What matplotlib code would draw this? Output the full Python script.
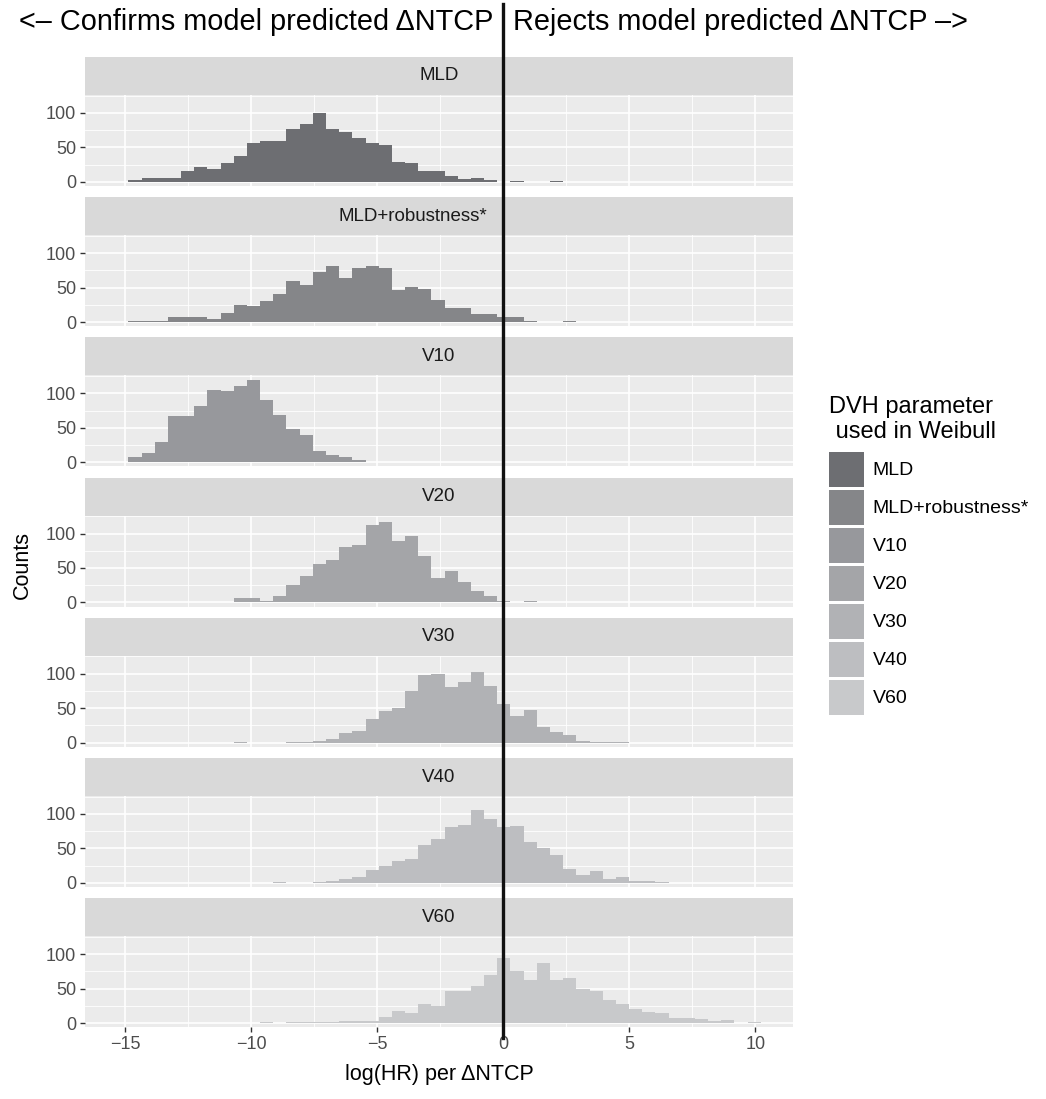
import numpy as np
import matplotlib
matplotlib.use('Agg')
import matplotlib.pyplot as plt
import matplotlib.transforms as mtransforms
from matplotlib.lines import Line2D
from matplotlib.patches import Patch

plt.rcParams['font.family'] = ['Liberation Sans', 'DejaVu Sans']

# 直方图数据 (48 个分箱)
bin_start = -14.88
bin_width = 0.523

panel_names = ['MLD', 'MLD+robustness*', 'V10', 'V20', 'V30', 'V40', 'V60']
panel_colors = ['#6D6E72', '#858689', '#97989C', '#A4A5A8', '#B1B2B5', '#BDBEC1', '#C8C9CB']

counts_mld = [3, 5, 5, 6, 16, 22, 19, 28, 37, 57, 60, 60, 76, 84, 100, 76, 72, 63, 57, 54,
              29, 28, 16, 16, 9, 4, 6, 3, 0, 1, 0, 0, 1, 0, 0, 0, 0, 0, 0, 0,
              0, 0, 0, 0, 0, 0, 0, 0]
counts_mld_rob = [1, 2, 2, 7, 8, 7, 5, 13, 25, 23, 30, 40, 60, 54, 73, 82, 64, 79, 82, 79,
                  47, 51, 48, 32, 21, 21, 12, 11, 8, 8, 2, 0, 0, 1, 0, 0, 0, 0, 0, 0,
                  0, 0, 0, 0, 0, 0, 0, 0]
counts_v10 = [8, 14, 29, 67, 67, 82, 105, 104, 110, 120, 91, 69, 48, 39, 16, 10, 7, 4, 0, 0,
              1, 0, 0, 0, 0, 0, 0, 0, 0, 0, 0, 0, 0, 0, 0, 0, 0, 0, 0, 0,
              0, 0, 0, 0, 0, 0, 0, 0]
counts_v20 = [0, 0, 0, 0, 0, 0, 0, 0, 6, 7, 2, 10, 26, 39, 56, 61, 80, 84, 112, 116,
              89, 96, 68, 36, 46, 30, 16, 10, 2, 1, 2, 0, 0, 0, 0, 0, 0, 0, 0, 0,
              0, 0, 0, 0, 0, 0, 0, 0]
counts_v30 = [0, 0, 0, 0, 0, 0, 0, 0, 1, 0, 0, 0, 1, 1, 3, 6, 14, 17, 34, 46,
              50, 75, 98, 99, 81, 88, 103, 82, 56, 39, 47, 22, 15, 11, 2, 1, 1, 1, 0, 0,
              0, 0, 0, 0, 0, 0, 0, 0]
counts_v40 = [0, 0, 0, 0, 0, 0, 0, 0, 0, 0, 0, 1, 0, 0, 1, 3, 6, 9, 18, 24,
              31, 34, 55, 63, 81, 84, 106, 93, 81, 82, 59, 50, 40, 20, 12, 17, 6, 8, 3, 3,
              1, 0, 0, 0, 0, 0, 0, 0]
counts_v60 = [0, 0, 0, 0, 0, 0, 0, 0, 0, 0, 1, 0, 1, 1, 1, 2, 3, 3, 3, 9,
              18, 15, 28, 25, 47, 47, 54, 70, 94, 75, 63, 87, 62, 66, 50, 46, 34, 28, 21, 16,
              15, 7, 7, 6, 3, 4, 0, 1]

all_counts = [counts_mld, counts_mld_rob, counts_v10, counts_v20, counts_v30, counts_v40, counts_v60]

x_major = [-15, -10, -5, 0, 5, 10]
x_minor = [-12.5, -7.5, -2.5, 2.5, 7.5]
y_major = [0, 50, 100]
y_minor = [25, 75, 125]

W, H = 1046, 1099
fig = plt.figure(figsize=(W / 100, H / 100), dpi=100)


def rect(x0, top, w, h):
    return [x0 / W, 1 - (top + h) / H, w / W, h / H]


edges = bin_start + bin_width * np.arange(len(counts_mld) + 1)
ymax = max(max(c) for c in all_counts)
xlim = (-16.6, 11.5)
ylim = (-0.05 * ymax, 1.05 * ymax)

# 原图中第二个标签略偏左
strip_text_x = [0.5, 0.463, 0.5, 0.5, 0.5, 0.5, 0.5]

panel_left, panel_w = 85, 708
step = 140.2
axes = []
for i, (name, counts, col) in enumerate(zip(panel_names, all_counts, panel_colors)):
    # 分面标签条
    s_top = 57 + i * step
    sax = fig.add_axes(rect(panel_left, s_top, panel_w, 38))
    sax.set_facecolor('#D9D9D9')
    sax.set_xticks([])
    sax.set_yticks([])
    for sp in sax.spines.values():
        sp.set_visible(False)
    sax.text(strip_text_x[i], 0.5, name, ha='center', va='center', fontsize=13.5,
             color='#1A1A1A', transform=sax.transAxes)

    ax = fig.add_axes(rect(panel_left, s_top + 38, panel_w, 91))
    ax.set_facecolor('#EBEBEB')
    for sp in ax.spines.values():
        sp.set_visible(False)
    ax.set_xlim(*xlim)
    ax.set_ylim(*ylim)
    ax.set_xticks(x_major)
    ax.set_xticks(x_minor, minor=True)
    ax.set_yticks(y_major)
    ax.set_yticks(y_minor, minor=True)
    ax.grid(True, which='major', color='white', linewidth=1.2)
    ax.grid(True, which='minor', color='white', linewidth=0.6)
    ax.set_axisbelow(True)
    ax.tick_params(axis='both', which='minor', length=0)
    ax.tick_params(axis='y', which='major', length=3.5, width=1, color='#333333',
                   labelsize=13, labelcolor='#4D4D4D', pad=3)
    if i < len(panel_names) - 1:
        ax.tick_params(axis='x', which='major', length=0, labelbottom=False)
    else:
        ax.tick_params(axis='x', which='major', length=3.5, width=1, color='#333333',
                       labelsize=13, labelcolor='#4D4D4D', pad=3)
        ax.set_xticklabels(['\u221215', '\u221210', '\u22125', '0', '5', '10'])
    ax.bar(edges[:-1], counts, width=bin_width, align='edge', color=col, linewidth=0)
    axes.append(ax)

axes[-1].set_xlabel('log(HR) per \u0394NTCP', fontsize=15.5, labelpad=8)
fig.text(22 / W, 1 - 565 / H, 'Counts', rotation=90, ha='center', va='center', fontsize=15.5)

# x=0 处的竖线, 贯穿整幅图
trans = mtransforms.blended_transform_factory(axes[-1].transData, fig.transFigure)
fig.add_artist(Line2D([0, 0], [1 - 1038 / H, 1 - 4 / H], transform=trans,
                      color='#111111', linewidth=2.4))

x0_fig = fig.transFigure.inverted().transform(axes[-1].transData.transform((0, 0)))[0]
fig.text(x0_fig - 10 / W, 1 - 22 / H, '<\u2013 Confirms model predicted \u0394NTCP',
         ha='right', va='center', fontsize=20.8)
fig.text(x0_fig + 10 / W, 1 - 22 / H, 'Rejects model predicted \u0394NTCP \u2013>',
         ha='left', va='center', fontsize=20.8)

# 图例
handles = [Patch(facecolor=c, edgecolor='none', label=n) for n, c in zip(panel_names, panel_colors)]
leg = fig.legend(handles=handles, loc='upper left', bbox_to_anchor=(829 / W, 1 - 396 / H),
                 frameon=False, fontsize=14, title='DVH parameter\n used in Weibull',
                 title_fontsize=17, handlelength=1.8, handleheight=2.4,
                 labelspacing=0.15, handletextpad=0.45, borderpad=0, borderaxespad=0)
leg._legend_box.align = 'left'
leg._legend_box.sep = 6

fig.savefig('out.png', dpi=100)
